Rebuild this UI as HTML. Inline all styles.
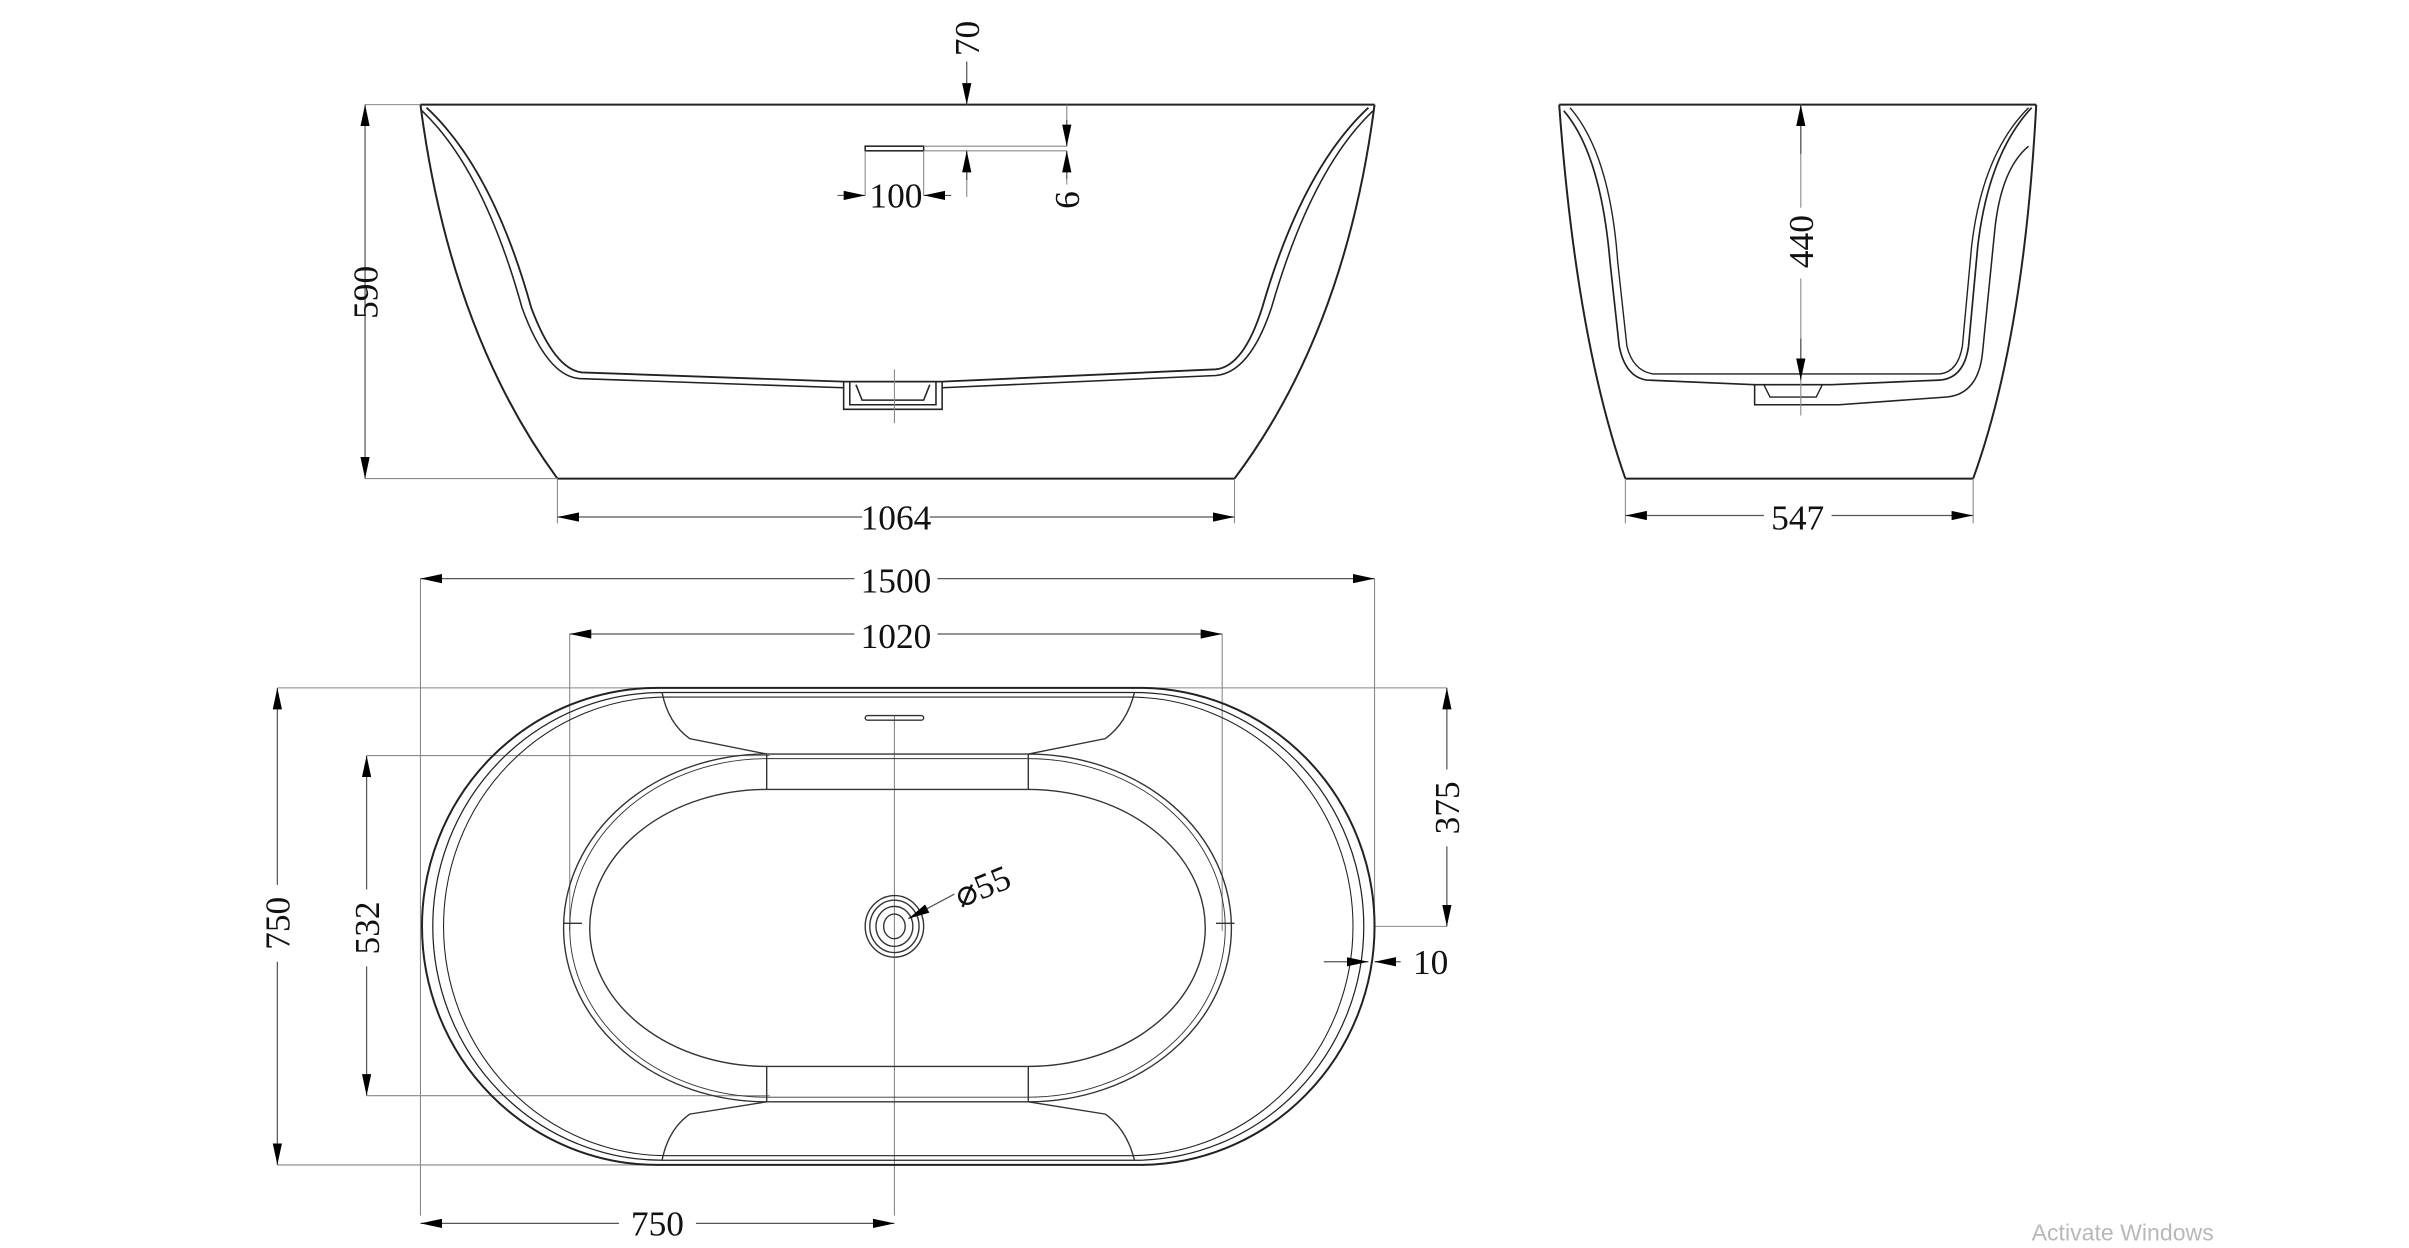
<!DOCTYPE html>
<html><head><style>
html,body{margin:0;padding:0;background:#fff;}
svg{display:block;}
text{font-family:"Liberation Serif",serif;font-size:23px;fill:#111;}
</style></head><body>
<svg width="2409" height="1248" viewBox="0 0 1565 811" xmlns="http://www.w3.org/2000/svg">
<defs>
<marker id="a" viewBox="0 0 14 6" refX="14" refY="3" markerWidth="14" markerHeight="6" markerUnits="userSpaceOnUse" orient="auto-start-reverse"><path d="M0,0L14,3L0,6z" fill="#000"/></marker>
</defs>
<g fill="none" stroke="#222" stroke-width="1.3">
<!-- FRONT VIEW -->
<path d="M273,68 L893,68"/>
<path d="M362,311 L802,311"/>
<path d="M273,68 Q292,215 362,311"/>
<path d="M893,68 Q874,215 802,311"/>
<path d="M277,70 Q320,110 345,200 Q360,240 378,242 L548,248 L612,248 L790,240 Q808,238 820,200 Q846,110 889,70" stroke-width="1.2"/>
<path d="M274,72 Q314,110 339,200 Q355,244 376,246 L548,252 M612,252 L790,244 Q812,242 826,200 Q852,110 892,72" stroke-width="1"/>
<path d="M548,248 L548,266 L612,266 L612,248 M556,250 L560,260 L600,260 L604,250 M552,248 L552,263 L608,263 L608,248" stroke-width="1"/>
<rect x="562" y="95" width="38" height="3" stroke-width="1"/>
</g>
<g fill="none" stroke="#888" stroke-width="0.7">
<path d="M237,68H273 M237,311H362 M362,311V340 M802,311V340 M600,95H693 M600,98H693 M562,98V127 M600,98V127 M628,98V128 M693,68V80 M693,115V120 M581,240V275"/>
</g>
<g fill="none" stroke="#555" stroke-width="0.8">
<path d="M237,68V311" marker-start="url(#a)" marker-end="url(#a)"/>
<path d="M362,336H802" marker-start="url(#a)" marker-end="url(#a)"/>
<path d="M628,40V68" marker-end="url(#a)"/>
<path d="M693,78V95" marker-end="url(#a)"/>
<path d="M693,116V98" marker-end="url(#a)"/>
<path d="M628,117V98" marker-end="url(#a)"/>
<path d="M544,127H562" marker-end="url(#a)"/>
<path d="M618,127H600" marker-end="url(#a)"/>
</g>
<text transform="translate(245,190) rotate(-90)" text-anchor="middle">590</text>
<rect x="560" y="324" width="44" height="24" fill="#fff"/>
<text x="582" y="344" text-anchor="middle">1064</text>
<text transform="translate(636,25) rotate(-90)" text-anchor="middle">70</text>
<text transform="translate(701,130) rotate(-90)" text-anchor="middle">6</text>
<text x="582" y="135" text-anchor="middle">100</text>

<!-- SIDE VIEW -->
<g fill="none" stroke="#222" stroke-width="1.3">
<path d="M1013,68H1323 M1056,311H1282"/>
<path d="M1013,68 Q1024,220 1056,311"/>
<path d="M1323,68 Q1315,220 1282,311"/>
<path d="M1016,72 Q1040,100 1046,170 L1052,225 Q1056,245 1070,247 L1140,250 L1190,250 L1260,247 Q1276,246 1279,225 L1285,160 Q1292,100 1320,70" stroke-width="1.1"/>
<path d="M1020,70 Q1046,100 1051,170 L1057,225 Q1061,241 1074,243 L1260,243 Q1272,242 1275,225 L1281,160 Q1288,100 1318,70" stroke-width="0.9"/>
<path d="M1140,250 L1140,263 L1195,263 L1265,258 Q1285,256 1288,230 L1296,150 Q1300,110 1318,95" stroke-width="1"/>
<path d="M1146,250 L1150,258 L1180,258 L1184,250" stroke-width="0.9"/>
</g>
<g fill="none" stroke="#888" stroke-width="0.7"><path d="M1056,311V340 M1282,311V340 M1170,68V270"/></g>
<g fill="none" stroke="#555" stroke-width="0.8">
<path d="M1170,100V68" marker-end="url(#a)"/>
<path d="M1170,220V247" marker-end="url(#a)"/>
<path d="M1056,335H1282" marker-start="url(#a)" marker-end="url(#a)"/>
</g>
<rect x="1158" y="135" width="26" height="46" fill="#fff"/>
<text transform="translate(1178,157) rotate(-90)" text-anchor="middle">440</text>
<rect x="1146" y="323" width="44" height="24" fill="#fff"/>
<text x="1168" y="344" text-anchor="middle">547</text>

<!-- TOP VIEW -->
<g fill="none" stroke="#888" stroke-width="0.7">
<path d="M273,376V790 M893,376V602 M370,412V605 M794,412V605 M180,447H940 M180,757H427 M238,491H500 M238,712H500 M893,602H940 M581,465V790"/>
</g>
<g fill="none" stroke="#222" stroke-width="1.3">
<path d="M427,447 H740 A153,155 0 0 1 740,757 H427 A153,155 0 0 1 427,447 Z"/>
<path d="M430,450 H737 A149,152 0 0 1 737,754 H430 A149,152 0 0 1 430,450 Z" stroke-width="0.8"/>
<path d="M433,453 H734 A145,149 0 0 1 734,751 H433 A145,149 0 0 1 433,453 Z" stroke-width="0.7"/>
</g>
<g fill="none" stroke="#333" stroke-width="0.9">
<path d="M498,490 H668 A132,113 0 0 1 668,716 H498 A132,113 0 0 1 498,490 Z"/>
<path d="M498,493 H668 A128,110 0 0 1 668,713 H498 A128,110 0 0 1 498,493 Z" stroke-width="0.6"/>
<path d="M498,513 H668 A115,90 0 0 1 668,693 H498 A115,90 0 0 1 498,513 Z"/>
<path d="M498,490V513 M668,490V513 M498,693V716 M668,693V716"/>
<path d="M430,450 Q434,470 448,480 L498,490 M737,450 Q732,470 718,480 L668,490"/>
<path d="M430,754 Q434,734 448,724 L498,716 M737,754 Q732,734 718,724 L668,716"/>
<path d="M366,600H378 M790,600H802"/>
<rect x="562" y="465" width="38" height="3" rx="1.5"/>
<ellipse cx="581" cy="602" rx="19" ry="20"/>
<ellipse cx="581" cy="602" rx="16" ry="17"/>
<ellipse cx="581" cy="602" rx="12" ry="13"/>
<ellipse cx="581" cy="602" rx="7" ry="8"/>
</g>
<g fill="none" stroke="#555" stroke-width="0.8">
<path d="M273,376H893" marker-start="url(#a)" marker-end="url(#a)"/>
<path d="M370,412H794" marker-start="url(#a)" marker-end="url(#a)"/>
<path d="M180,447V757" marker-start="url(#a)" marker-end="url(#a)"/>
<path d="M238,491V712" marker-start="url(#a)" marker-end="url(#a)"/>
<path d="M940,447V602" marker-start="url(#a)" marker-end="url(#a)"/>
<path d="M273,795H581" marker-start="url(#a)" marker-end="url(#a)"/>
<path d="M860,625H889" marker-end="url(#a)"/>
<path d="M910,625H893" marker-end="url(#a)"/>
<path d="M620,581L590,597" marker-end="url(#a)"/>
</g>
<rect x="555" y="364" width="54" height="24" fill="#fff"/>
<text x="582" y="385" text-anchor="middle">1500</text>
<rect x="555" y="400" width="54" height="24" fill="#fff"/>
<text x="582" y="421" text-anchor="middle">1020</text>
<rect x="168" y="575" width="24" height="50" fill="#fff"/>
<text transform="translate(188,600) rotate(-90)" text-anchor="middle">750</text>
<rect x="226" y="578" width="24" height="50" fill="#fff"/>
<text transform="translate(246,603) rotate(-90)" text-anchor="middle">532</text>
<rect x="928" y="500" width="24" height="50" fill="#fff"/>
<text transform="translate(948,525) rotate(-90)" text-anchor="middle">375</text>
<text x="918" y="633">10</text>
<text transform="translate(624,590) rotate(-22)">⌀55</text>
<rect x="402" y="784" width="50" height="22" fill="#fff"/>
<text x="427" y="803" text-anchor="middle">750</text>
<text x="1320" y="806" style="font-family:'Liberation Sans',sans-serif;font-size:15px;fill:#b8b8b8">Activate Windows</text>
</svg>
</body></html>
